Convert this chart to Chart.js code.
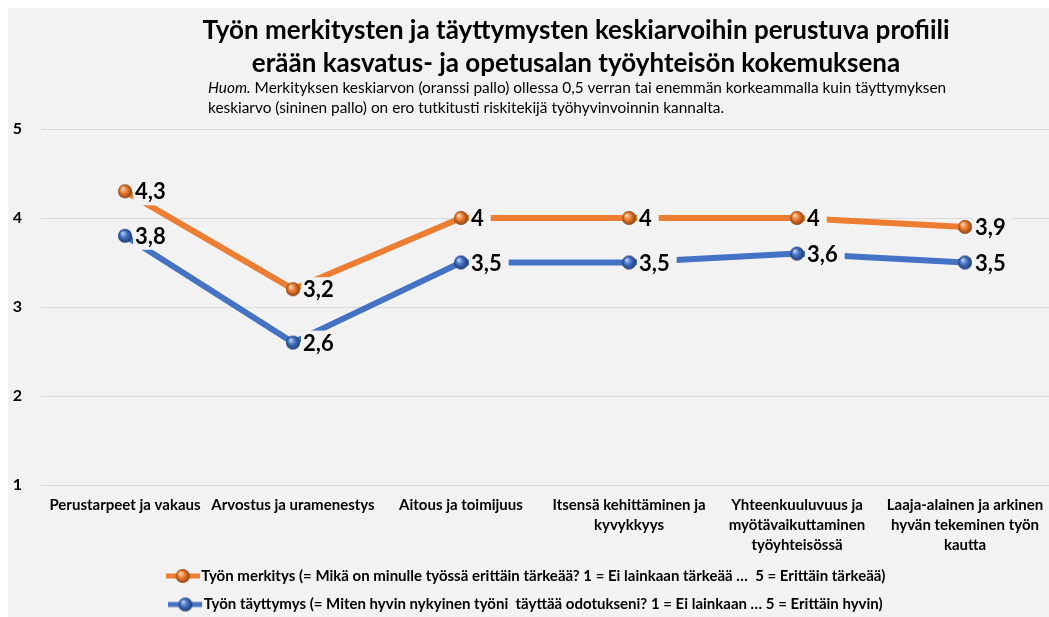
<!DOCTYPE html>
<html>
<head>
<meta charset="utf-8">
<script src="https://cdn.jsdelivr.net/npm/chart.js@4.4.1/dist/chart.umd.min.js"></script>
<style>
  html, body { margin: 0; padding: 0; background: #ffffff; }
  #wrap { position: absolute; left: 8px; top: 8px; width: 1041px; height: 609px; background: #f2f2f2; }
</style>
</head>
<body>
<div id="wrap"><canvas id="profile-chart"></canvas></div>
<script>
// chart data
const categories = [
  ["Perustarpeet ja vakaus"],
  ["Arvostus ja uramenestys"],
  ["Aitous ja toimijuus"],
  ["Itsensä kehittäminen ja", "kyvykkyys"],
  ["Yhteenkuuluvuus ja", "myötävaikuttaminen", "työyhteisössä"],
  ["Laaja-alainen ja arkinen", "hyvän tekeminen työn", "kautta"]
];
const meaningValues = [4.3, 3.2, 4, 4, 4, 3.9];
const fulfilmentValues = [3.8, 2.6, 3.5, 3.5, 3.6, 3.5];
const yTicks = [1, 2, 3, 4, 5];
const seriesNames = [
  "Työn merkitys (= Mikä on minulle työssä erittäin tärkeää? 1 = Ei lainkaan tärkeää …  5 = Erittäin tärkeää)",
  "Työn täyttymys (= Miten hyvin nykyinen työni  täyttää odotukseni? 1 = Ei lainkaan … 5 = Erittäin hyvin)"
];
const titleLines = [
  "Työn merkitysten ja täyttymysten keskiarvoihin perustuva profiili",
  "erään kasvatus- ja opetusalan työyhteisön kokemuksena"
];
const noteLead = "Huom.";
const noteLines = [
  " Merkityksen keskiarvon (oranssi pallo) ollessa 0,5 verran tai enemmän korkeammalla kuin täyttymyksen",
  "keskiarvo (sininen pallo) on ero tutkitusti riskitekijä työhyvinvoinnin kannalta."
];

const FONT = "Lato, 'Open Sans', sans-serif";
const ORANGE = "#ED7D31";
const BLUE = "#4472C4";
const BG = "#f2f2f2";

// little 3d ball used as point marker
function makeBall(light, mid, dark, r) {
  const c = document.createElement("canvas");
  c.width = c.height = r * 2 + 2;
  const ctx = c.getContext("2d");
  const cx = r + 1;
  const g = ctx.createRadialGradient(cx - r * 0.35, cx - r * 0.4, 0.5, cx, cx, r);
  g.addColorStop(0, light);
  g.addColorStop(0.45, mid);
  g.addColorStop(1, dark);
  ctx.fillStyle = g;
  ctx.beginPath();
  ctx.arc(cx, cx, r, 0, Math.PI * 2);
  ctx.fill();
  return c;
}

function makeLegendIcon(color, ball) {
  const c = document.createElement("canvas");
  c.width = 34;
  c.height = 16;
  const ctx = c.getContext("2d");
  ctx.strokeStyle = color;
  ctx.lineWidth = 5;
  ctx.beginPath();
  ctx.moveTo(0, 8);
  ctx.lineTo(34, 8);
  ctx.stroke();
  ctx.drawImage(ball, 17 - ball.width / 2, 8 - ball.height / 2);
  return c;
}

const orangeBall = makeBall("#fbd3b0", ORANGE, "#8f4210", 7);
const blueBall = makeBall("#b9cff3", BLUE, "#1d3b72", 7);
const icons = [makeLegendIcon(ORANGE, orangeBall), makeLegendIcon(BLUE, blueBall)];

const fmt = (v) => String(v).replace(".", ",");

// title and note drawn over the top part
const headerPlugin = {
  id: "header",
  afterDraw(chart) {
    const ctx = chart.ctx;
    ctx.save();
    ctx.fillStyle = "#000";
    ctx.textAlign = "center";
    ctx.textBaseline = "alphabetic";
    ctx.font = "bold 26px " + FONT;
    ctx.fillText(titleLines[0], 568, 31);
    ctx.fillText(titleLines[1], 568, 64);

    ctx.textAlign = "left";
    ctx.font = "italic 15.4px " + FONT;
    ctx.fillText(noteLead, 200, 85);
    const w = ctx.measureText(noteLead).width;
    ctx.font = "15.4px " + FONT;
    ctx.fillText(noteLines[0], 200 + w, 85);
    ctx.fillText(noteLines[1], 200, 105);
    ctx.restore();
  }
};

// value labels to the right of every point
const valueLabels = {
  id: "valueLabels",
  afterDatasetsDraw(chart) {
    const ctx = chart.ctx;
    ctx.save();
    ctx.font = "bold 22px " + FONT;
    ctx.textBaseline = "middle";
    ctx.textAlign = "left";
    chart.data.datasets.forEach((ds, i) => {
      const meta = chart.getDatasetMeta(i);
      meta.data.forEach((pt, j) => {
        const txt = fmt(ds.data[j]);
        const w = ctx.measureText(txt).width;
        const x = pt.x + 9;
        const y = pt.y + 1;
        ctx.fillStyle = BG;
        ctx.fillRect(x - 1, y - 13, w + 9, 26);
        ctx.fillStyle = "#000";
        ctx.fillText(txt, x + 1, y);
      });
    });
    ctx.restore();
  }
};

new Chart(document.getElementById("profile-chart"), {
  type: "line",
  data: {
    labels: categories,
    datasets: [
      {
        label: seriesNames[0],
        data: meaningValues,
        borderColor: ORANGE,
        backgroundColor: ORANGE,
        borderWidth: 6,
        pointStyle: orangeBall,
        pointRadius: 7,
        tension: 0
      },
      {
        label: seriesNames[1],
        data: fulfilmentValues,
        borderColor: BLUE,
        backgroundColor: BLUE,
        borderWidth: 6,
        pointStyle: blueBall,
        pointRadius: 7,
        tension: 0
      }
    ]
  },
  options: {
    responsive: true,
    maintainAspectRatio: false,
    animation: false,
    layout: { autoPadding: false, padding: { top: 121, right: 0, left: 0, bottom: 0 } },
    scales: {
      x: {
        offset: true,
        grid: { display: false, drawTicks: false },
        border: { display: false },
        afterFit: (scale) => { scale.paddingLeft = 0; scale.paddingRight = 0; scale.height = 70; },
        ticks: {
          color: "#000",
          font: { family: FONT, size: 15, weight: "bold", lineHeight: 1.333 },
          padding: 10,
          maxRotation: 0,
          autoSkip: false
        }
      },
      y: {
        min: 1,
        max: 5,
        afterBuildTicks: (scale) => { scale.ticks = yTicks.map((v) => ({ value: v })); },
        afterFit: (scale) => { scale.width = 33; },
        grid: { color: "#d9d9d9", lineWidth: 1, drawTicks: false },
        border: { display: false },
        ticks: {
          color: "#000",
          font: { family: FONT, size: 16, weight: "bold" },
          padding: 19
        }
      }
    },
    plugins: {
      title: { display: false },
      tooltip: { enabled: false },
      legend: {
        position: "bottom",
        maxHeight: 62,
        labels: {
          color: "#000",
          font: { family: FONT, size: 15, weight: "bold" },
          usePointStyle: true,
          pointStyleWidth: 22,
          padding: 13.5,
          generateLabels: (chart) => chart.data.datasets.map((ds, i) => ({
            text: ds.label,
            pointStyle: icons[i],
            fillStyle: ds.borderColor,
            strokeStyle: ds.borderColor,
            lineWidth: 0,
            fontColor: "#000",
            datasetIndex: i
          }))
        }
      }
    }
  },
  plugins: [headerPlugin, valueLabels]
});
</script>
</body>
</html>
